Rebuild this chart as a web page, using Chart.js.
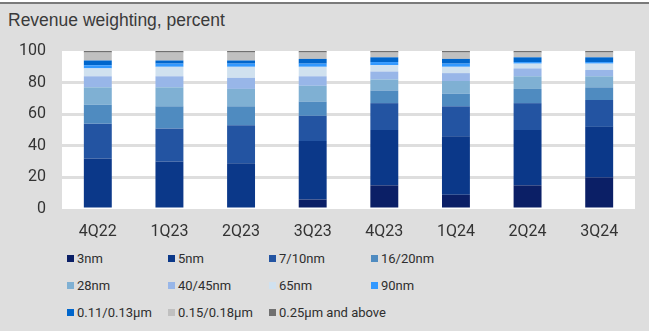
<!DOCTYPE html>
<html>
<head>
<meta charset="utf-8">
<script src="https://cdn.jsdelivr.net/npm/chart.js@4"></script>
<style>
  html, body { margin: 0; padding: 0; background: #fff; }
  #frame {
    position: absolute; left: 0; top: 2px; width: 649px; height: 329px;
    background: #dedede; border-top: 2px solid #7a7a7a; box-sizing: border-box;
  }
  #title {
    position: absolute; left: 8px; top: 6px;
    font: 17.5px "Liberation Sans", Arial, sans-serif; color: #3a3a3a;
  }
  #chartBox { position: absolute; left: 0; top: -4px; width: 649px; height: 245px; }
  #legend {
    position: absolute; left: 67px; top: 245px;
    display: grid; grid-template-columns: 101px 101px 102px 101px; row-gap: 9px;
    font: 13px Roboto, sans-serif; color: #2e2e2e;
  }
  .item { display: flex; align-items: center; height: 18px; white-space: nowrap; }
  .box { width: 7px; height: 7px; margin-right: 3px; flex: none; }
</style>
</head>
<body>
<div id="frame">
  <div id="title">Revenue weighting, percent</div>
  <div id="chartBox"><canvas id="revChart" width="649" height="245"></canvas></div>
  <div id="legend"></div>
</div>
<script>
// quarters on the x axis
const quarters = ['4Q22', '1Q23', '2Q23', '3Q23', '4Q23', '1Q24', '2Q24', '3Q24'];

// revenue share per node, percent (bottom of stack first)
const nm3      = [0, 0, 0, 6, 15, 9, 15, 20];
const nm5      = [32, 30, 29, 37, 35, 37, 35, 32];
const nm7_10   = [22, 21, 24, 16, 17, 19, 17, 17];
const nm16_20  = [12, 14, 12, 9, 8, 8, 9, 8];
const nm28     = [11, 12, 11, 10, 7, 8, 8, 7];
const nm40_45  = [7, 7, 7, 6, 5, 5, 5, 4];
const nm65     = [5, 6, 7, 6, 4, 4, 3, 4];
const nm90     = [2, 2, 2, 2, 2, 2, 1, 1];
const um011    = [3, 2, 2, 3, 3, 3, 3, 3];
const um015    = [5, 5, 5, 4, 3, 4, 3, 3];
const um025    = [1, 1, 1, 1, 1, 1, 1, 1];

const nodeLabels = ['3nm', '5nm', '7/10nm', '16/20nm', '28nm', '40/45nm', '65nm', '90nm',
    '0.11/0.13\u00b5m', '0.15/0.18\u00b5m', '0.25\u00b5m and above'];
const nodeColors = ['#0b1f66', '#0b3889', '#2354a2', '#4f8bc0', '#7fb0d3', '#98b6e8',
    '#d0e1ef', '#3399ff', '#0066cc', '#c0c0c0', '#707070'];
const nodeSeries = [nm3, nm5, nm7_10, nm16_20, nm28, nm40_45, nm65, nm90, um011, um015, um025];

const yTicks = [0, 20, 40, 60, 80, 100];

// white plot area behind the bars
const plotBg = {
    id: 'plotBg',
    beforeDraw(chart) {
        const {ctx, chartArea: a} = chart;
        ctx.save();
        ctx.fillStyle = '#ffffff';
        ctx.fillRect(a.left, a.top, a.right - a.left, a.bottom - a.top);
        ctx.restore();
    }
};

const tickFont = {family: 'Roboto, sans-serif', size: 16};

const ctx = document.getElementById('revChart').getContext('2d');
new Chart(ctx, {
    type: 'bar',
    data: {
        labels: quarters,
        datasets: nodeSeries.map((vals, idx) => ({
            label: nodeLabels[idx],
            data: vals,
            backgroundColor: nodeColors[idx],
            borderWidth: 0,
            barPercentage: 0.39,
            categoryPercentage: 1
        }))
    },
    options: {
        responsive: false,
        animation: false,
        layout: {padding: {top: 51, right: 14, bottom: 0, left: 0}},
        plugins: {legend: {display: false}, tooltip: {enabled: false}},
        scales: {
            x: {
                stacked: true,
                grid: {display: false, drawTicks: false},
                border: {display: false},
                ticks: {color: '#333', padding: 13, font: tickFont},
                afterFit(scale) { scale.height = 36; }
            },
            y: {
                stacked: true,
                min: 0,
                max: 100,
                afterBuildTicks(scale) { scale.ticks = yTicks.map(v => ({value: v})); },
                grid: {
                    color: c => (c.tick.value === 0 || c.tick.value === 100) ? 'rgba(0,0,0,0)' : '#dedede',
                    lineWidth: 3,
                    drawTicks: false
                },
                border: {display: false},
                ticks: {color: '#333', padding: 16, font: tickFont},
                afterFit(scale) { scale.width = 62; }
            }
        }
    },
    plugins: [plotBg]
});

// legend laid out as a 4-column grid
const legendEl = document.getElementById('legend');
nodeLabels.forEach((name, idx) => {
    const item = document.createElement('div');
    item.className = 'item';
    const box = document.createElement('span');
    box.className = 'box';
    box.style.background = nodeColors[idx];
    const txt = document.createElement('span');
    txt.textContent = name;
    item.appendChild(box);
    item.appendChild(txt);
    legendEl.appendChild(item);
});
</script>
</body>
</html>
